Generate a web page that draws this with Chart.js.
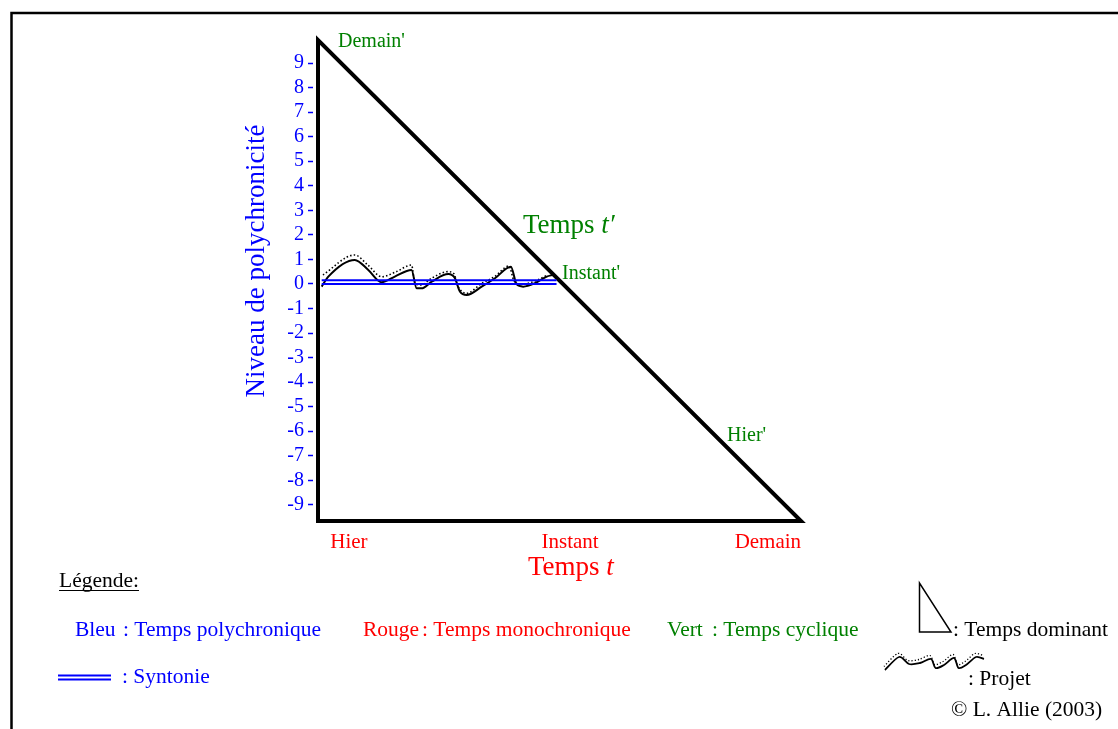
<!DOCTYPE html>
<html>
<head>
<meta charset="utf-8">
<script src="https://cdn.jsdelivr.net/npm/chart.js@4/dist/chart.umd.min.js"></script>
<style>
html,body{margin:0;padding:0;background:#fff;overflow:hidden;}
canvas{display:block;}
</style>
</head>
<body>
<canvas id="c" width="1118" height="729"></canvas>
<script>
// ---- data ----
const yTickValues = [-9,-8,-7,-6,-5,-4,-3,-2,-1,0,1,2,3,4,5,6,7,8,9];
const xTickValues = [-8.72, 0.29, 8.35];
const xTickLabels = ['Hier', 'Instant', 'Demain'];

const triangleX = [-9.98, 9.70, -9.98, -9.98];
const triangleY = [-9.66, -9.66, 9.94, -9.66];

const syntonieX = [-9.83, -0.26];
const syntonieUpperY = [0.15, 0.15];
const syntonieLowerY = [0.0, 0.0];

const projetX = [-9.83, -9.56, -8.48, -7.93, -7.39, -6.85, -6.17, -5.96, -5.76, -5.35, -4.67, -4.40, -4.20, -3.92, -3.31, -2.77, -2.12, -1.89, -1.62, -1.14, -0.66, -0.40];
const projetY = [-0.11, 0.30, 0.98, 0.57, 0.07, 0.30, 0.57, -0.18, -0.18, 0.09, 0.40, 0.23, -0.31, -0.45, -0.11, 0.23, 0.70, -0.01, -0.11, 0.03, 0.30, 0.37];

const projetDotX = [-9.78, -8.48, -7.95, -7.38, -6.81, -6.17, -6.03, -5.79, -5.34, -4.69, -4.44, -4.27, -3.92, -3.34, -2.77, -2.20, -1.99, -1.67, -1.14, -0.61];
const projetDotY = [0.37, 1.18, 0.77, 0.29, 0.49, 0.77, 0.04, -0.04, 0.24, 0.50, 0.41, -0.11, -0.38, 0.00, 0.31, 0.73, 0.12, -0.02, 0.12, 0.37];

const BLUE = '#0000ff', RED = '#ff0000', GREEN = '#008000', BLACK = '#000000';
const SERIF = '"Liberation Serif", "Times New Roman", serif';

const pts = (xs, ys) => xs.map((x, i) => ({x: x, y: ys[i]}));

const textPlugin = {
  id: 'texts',
  beforeDraw(chart) {
    const ctx = chart.ctx;
    ctx.save();
    ctx.fillStyle = '#fff';
    ctx.fillRect(0, 0, chart.width, chart.height);
    ctx.strokeStyle = '#000';
    ctx.lineWidth = 2.5;
    ctx.strokeRect(11.5, 13, 2000, 2000);
    ctx.restore();
  },
  afterDraw(chart) {
    const ctx = chart.ctx;
    ctx.save();
    ctx.textBaseline = 'alphabetic';
    ctx.textAlign = 'left';
    function txt(s, x, y, color, size, style) {
      ctx.font = (style || '') + ' ' + size + 'px ' + SERIF;
      ctx.fillStyle = color;
      ctx.fillText(s, x, y);
      return ctx.measureText(s).width;
    }
    // green labels
    txt("Demain'", 338, 47, GREEN, 20);
    let w = txt('Temps ', 523, 233, GREEN, 27);
    txt('t\u2032', 523 + w, 233, GREEN, 27, 'italic');
    txt("Instant'", 562, 279, GREEN, 20);
    txt("Hier'", 727, 441, GREEN, 20);
    // red axis title
    w = txt('Temps ', 528, 575, RED, 27);
    txt('t', 528 + w, 575, RED, 27, 'italic');
    // y title
    ctx.save();
    ctx.translate(264, 261);
    ctx.rotate(-Math.PI / 2);
    ctx.textAlign = 'center';
    ctx.font = '27px ' + SERIF;
    ctx.fillStyle = BLUE;
    ctx.fillText('Niveau de polychronicité', 0, 0);
    ctx.restore();
    // legend
    const LS = 21.5;
    w = txt('Légende:', 59, 587, BLACK, LS);
    ctx.strokeStyle = BLACK; ctx.lineWidth = 1;
    ctx.beginPath(); ctx.moveTo(59, 590.5); ctx.lineTo(59 + w, 590.5); ctx.stroke();

    txt('Bleu', 75, 636, BLUE, LS);
    txt(': Temps polychronique', 123, 636, BLUE, LS);
    txt('Rouge', 363, 636, RED, LS);
    txt(': Temps monochronique', 422, 636, RED, LS);
    txt('Vert', 667, 636, GREEN, LS);
    txt(': Temps cyclique', 712, 636, GREEN, LS);

    // syntonie icon
    ctx.strokeStyle = BLUE; ctx.lineWidth = 2;
    ctx.beginPath(); ctx.moveTo(58, 675.5); ctx.lineTo(111, 675.5); ctx.stroke();
    ctx.beginPath(); ctx.moveTo(58, 679.5); ctx.lineTo(111, 679.5); ctx.stroke();
    txt(': Syntonie', 122, 683, BLUE, LS);

    // triangle icon
    ctx.strokeStyle = BLACK; ctx.lineWidth = 1.5;
    ctx.beginPath();
    ctx.moveTo(919.5, 583); ctx.lineTo(919.5, 632); ctx.lineTo(951, 632); ctx.closePath();
    ctx.stroke();
    txt(': Temps dominant', 953, 636, BLACK, LS);

    // projet icon (catmull-rom through points)
    const wave = [[885,670],[899,657],[909,664],[920,663],[931,659],[935.5,668],[944,665],[954,658],[958.5,668],[966,665],[976,657],[984,659]];
    function spline(p, dx, dy) {
      ctx.beginPath();
      ctx.moveTo(p[0][0] + dx, p[0][1] + dy);
      for (let i = 0; i < p.length - 1; i++) {
        const p0 = p[Math.max(i - 1, 0)], p1 = p[i], p2 = p[i + 1], p3 = p[Math.min(i + 2, p.length - 1)];
        const t = 0.3;
        const c1x = p1[0] + (p2[0] - p0[0]) * t / 2, c1y = p1[1] + (p2[1] - p0[1]) * t / 2;
        const c2x = p2[0] - (p3[0] - p1[0]) * t / 2, c2y = p2[1] - (p3[1] - p1[1]) * t / 2;
        ctx.bezierCurveTo(c1x + dx, c1y + dy, c2x + dx, c2y + dy, p2[0] + dx, p2[1] + dy);
      }
      ctx.stroke();
    }
    ctx.lineJoin = 'round';
    ctx.lineWidth = 1.8; ctx.setLineDash([]);
    spline(wave, 0, 0);
    ctx.lineWidth = 1.3; ctx.setLineDash([1.2, 2]);
    spline(wave, -1, -3.5);
    ctx.setLineDash([]);
    txt(': Projet', 968, 685, BLACK, LS);
    txt('\u00A9 L. Allie (2003)', 951, 716, BLACK, LS);
    ctx.restore();
  }
};

Chart.defaults.font.family = SERIF;

new Chart(document.getElementById('c'), {
  type: 'scatter',
  data: {
    datasets: [
      {
        label: 'Syntonie haute',
        data: pts(syntonieX, syntonieUpperY),
        showLine: true, borderColor: BLUE, borderWidth: 2, pointRadius: 0, clip: false
      },
      {
        label: 'Syntonie basse',
        data: pts(syntonieX, syntonieLowerY),
        showLine: true, borderColor: BLUE, borderWidth: 2, pointRadius: 0, clip: false
      },
      {
        label: 'Projet (pointillé)',
        data: pts(projetDotX, projetDotY),
        showLine: true, borderColor: BLACK, borderWidth: 1.6, borderDash: [1.5, 2.2],
        cubicInterpolationMode: 'monotone', pointRadius: 0, clip: false
      },
      {
        label: 'Projet',
        data: pts(projetX, projetY),
        showLine: true, borderColor: BLACK, borderWidth: 2,
        cubicInterpolationMode: 'monotone', pointRadius: 0, clip: false
      },
      {
        label: 'Temps dominant',
        data: pts(triangleX, triangleY),
        showLine: true, borderColor: BLACK, borderWidth: 4, borderJoinStyle: 'miter',
        borderCapStyle: 'square', tension: 0, pointRadius: 0, clip: false
      }
    ]
  },
  options: {
    responsive: false,
    animation: false,
    devicePixelRatio: 1,
    layout: { padding: { left: 238, right: 317, top: 40, bottom: 168 } },
    plugins: { legend: { display: false }, tooltip: { enabled: false } },
    scales: {
      x: {
        type: 'linear', position: 'bottom', min: -9.98, max: 9.70,
        afterBuildTicks(scale) { scale.ticks = xTickValues.map(v => ({value: v})); },
        afterFit(scale) { scale.height = 40; },
        grid: { display: false, drawTicks: false },
        border: { display: false },
        ticks: {
          color: RED, font: { size: 21, family: SERIF }, padding: 9,
          maxRotation: 0, autoSkip: false,
          callback(value, index) { return xTickLabels[index]; }
        }
      },
      y: {
        type: 'linear', position: 'left', min: -9.66, max: 9.94,
        afterBuildTicks(scale) { scale.ticks = yTickValues.map(v => ({value: v})); },
        afterFit(scale) { scale.width = 80; },
        grid: {
          display: true, drawOnChartArea: false, drawTicks: true,
          tickLength: 10, tickColor: BLUE, tickWidth: 1.5, tickBorderDash: [5, 30]
        },
        border: { display: false },
        ticks: {
          color: BLUE, font: { size: 20, family: SERIF }, padding: 4, autoSkip: false,
          callback(value) { return String(value); }
        }
      }
    }
  },
  plugins: [textPlugin]
});
</script>
</body>
</html>
